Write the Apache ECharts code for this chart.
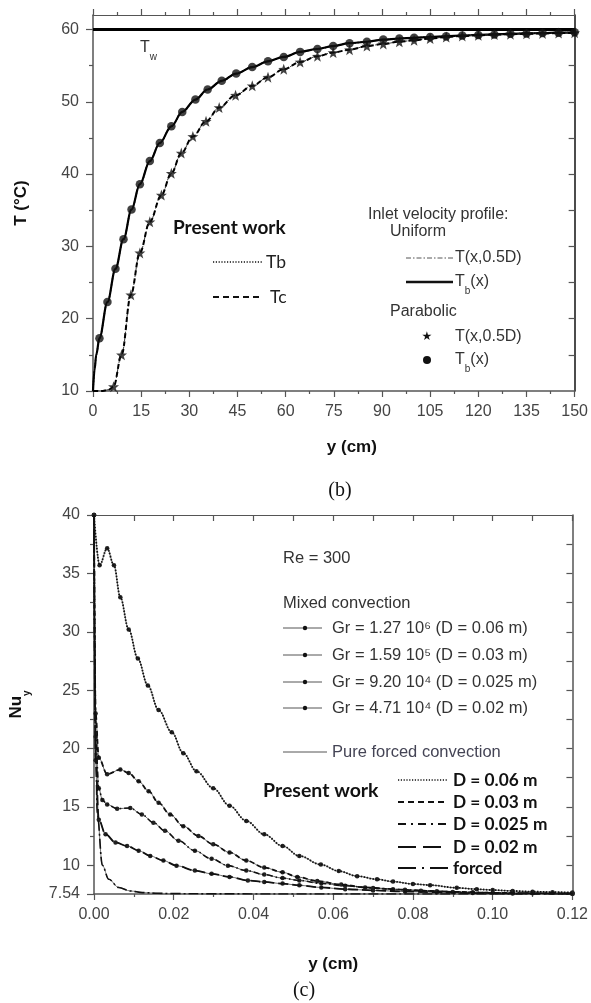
<!DOCTYPE html>
<html>
<head>
<meta charset="utf-8">
<script src="https://cdn.jsdelivr.net/npm/echarts@6/dist/echarts.min.js"></script>
<style>
html,body{margin:0;padding:0;background:#fff;}
#c{width:591px;height:1003px;}
</style>
</head>
<body>
<div id="c"></div>
<script>
// ---------- Chart (b): temperature ----------
var tbX = [0, 0.5, 1, 2, 4.5, 7, 9.5, 12, 14.6, 17.7, 20.8, 24.4, 27.8, 31.9, 35.7, 40.1, 44.6, 49.6, 54.5, 59.4, 64.5, 69.9, 74.8, 79.9, 85.3, 90.4, 95.4, 100, 105, 110, 115, 120, 125, 130, 135, 140, 145, 150];
var tbY = [10, 13, 15, 17.3, 22.3, 26.9, 31.0, 35.1, 38.6, 41.8, 44.3, 46.6, 48.6, 50.3, 51.7, 52.9, 53.9, 54.8, 55.6, 56.2, 56.9, 57.3, 57.7, 58.1, 58.3, 58.6, 58.75, 58.85, 58.96, 59.05, 59.15, 59.25, 59.3, 59.4, 59.45, 59.5, 59.55, 59.6];
var tcX = [0, 3, 5, 6.4, 8.9, 11.8, 14.6, 17.7, 21.3, 24.4, 27.5, 31.1, 35.2, 39.3, 44.4, 49.6, 54.5, 59.4, 64.5, 69.9, 74.8, 79.9, 85.3, 90.4, 95.4, 100, 105, 110, 115, 120, 125, 130, 135, 140, 145, 150];
var tcY = [10, 10, 10.2, 10.6, 15.0, 23.3, 29.1, 33.4, 37.1, 40.1, 42.9, 45.2, 47.3, 49.2, 50.9, 52.2, 53.4, 54.5, 55.5, 56.3, 56.8, 57.2, 57.7, 58.0, 58.3, 58.5, 58.75, 58.95, 59.1, 59.2, 59.3, 59.35, 59.4, 59.45, 59.5, 59.55];
var twValue = 60;
var tXTicks = [0, 150, 15];           // min, max, interval
var tYLabels = [10, 20, 30, 40, 50, 60];
var tYMinor = [15, 25, 35, 45, 55];
var tYRight = [15, 20, 25, 30, 35, 40, 45, 50, 55, 60];
var tYRange = [10, 62];

// ---------- Chart (c): Nusselt number ----------
var d06X = [0, 0.0014, 0.0033, 0.005, 0.0066, 0.0087, 0.011, 0.0135, 0.0162, 0.0195, 0.0224, 0.0257, 0.0299, 0.034, 0.0382, 0.0427, 0.0473, 0.0515, 0.0569, 0.0614, 0.066, 0.071, 0.075, 0.080, 0.0843, 0.091, 0.096, 0.1, 0.105, 0.11, 0.115, 0.12];
var d06Y = [40, 35.7, 37.15, 35.7, 32.96, 30.2, 27.7, 25.4, 23.3, 21.4, 19.6, 18.06, 16.6, 15.1, 13.8, 12.65, 11.65, 10.8, 10.06, 9.5, 9.07, 8.8, 8.6, 8.4, 8.3, 8.07, 7.95, 7.88, 7.8, 7.74, 7.7, 7.66];
var d03X = [0, 0.0004, 0.0012, 0.0033, 0.0066, 0.0087, 0.0112, 0.0137, 0.0162, 0.0191, 0.0224, 0.0262, 0.0299, 0.034, 0.0382, 0.0427, 0.0473, 0.051, 0.056, 0.062, 0.068, 0.075, 0.082, 0.09, 0.1, 0.11, 0.12];
var d03Y = [40, 23, 19.2, 17.8, 18.2, 17.9, 17.2, 16.35, 15.35, 14.35, 13.35, 12.5, 11.8, 11.1, 10.4, 9.8, 9.4, 9.0, 8.65, 8.35, 8.1, 7.95, 7.82, 7.72, 7.64, 7.6, 7.57];
var d025X = [0, 0.0004, 0.0012, 0.0021, 0.0033, 0.0058, 0.0091, 0.012, 0.0149, 0.0178, 0.0212, 0.0253, 0.0295, 0.0336, 0.0382, 0.0427, 0.0473, 0.0515, 0.057, 0.063, 0.07, 0.078, 0.086, 0.095, 0.105, 0.12];
var d025Y = [40, 21, 16.6, 15.6, 15.2, 14.85, 14.9, 14.35, 13.65, 12.95, 12.1, 11.25, 10.55, 9.97, 9.55, 9.2, 8.9, 8.7, 8.45, 8.25, 8.05, 7.9, 7.78, 7.68, 7.62, 7.57];
var d02X = [0, 0.0004, 0.0012, 0.0029, 0.0054, 0.0083, 0.0112, 0.0141, 0.0174, 0.0207, 0.0253, 0.0295, 0.034, 0.0386, 0.0427, 0.0473, 0.0515, 0.057, 0.063, 0.07, 0.078, 0.086, 0.095, 0.105, 0.12];
var d02Y = [40, 19, 13.9, 12.65, 11.95, 11.65, 11.25, 10.8, 10.4, 9.97, 9.55, 9.27, 9.0, 8.7, 8.57, 8.43, 8.28, 8.1, 7.95, 7.85, 7.75, 7.68, 7.62, 7.58, 7.56];
var forcedX = [0, 0.0002, 0.0005, 0.0008, 0.0021, 0.0037, 0.0062, 0.0091, 0.0122, 0.016, 0.02, 0.03, 0.05, 0.08, 0.12];
var forcedY = [40, 28, 19, 14.5, 10, 8.8, 8.1, 7.8, 7.66, 7.6, 7.57, 7.55, 7.54, 7.54, 7.54];
var nXTicks = [0, 0.12, 0.02];
var nXTopTicks = [0, 0.12, 0.01];
var nYLabels = [7.54, 10, 15, 20, 25, 30, 35, 40];
var nYMinor = [12.5, 17.5, 22.5, 27.5, 32.5, 37.5];
var nYRight = [10, 12.5, 15, 17.5, 20, 22.5, 25, 27.5, 30, 32.5, 35, 37.5];
var nYRange = [7.54, 40];

function pairs(xs, ys) { return xs.map(function (x, i) { return [x, ys[i]]; }); }
function from(xs, ys, x0) { return pairs(xs, ys).filter(function (p) { return p[0] >= x0; }); }

var AX = '#555';
var LBL = '#444';
var STAR = 'path://M0,-10L2.35,-3.24L9.51,-3.09L3.8,1.24L5.88,8.09L0,4.2L-5.88,8.09L-3.8,1.24L-9.51,-3.09L-2.35,-3.24Z';
var sans = 'Liberation Sans';
var bold = 'Lato';

var chart = echarts.init(document.getElementById('c'), null, { renderer: 'canvas' });

var grids = [
  { left: 93, top: 15, width: 485, height: 376 },
  { left: 92, top: 515, width: 483, height: 379 }
];

function xMain(grid, r, name, nameGap, pad, fmt) {
  return {
    type: 'value', gridIndex: grid, position: 'bottom', min: r[0], max: r[1], interval: r[2],
    axisLine: { lineStyle: { color: AX, width: 1.5 } },
    axisTick: { length: 6, inside: false, lineStyle: { color: AX, width: 1.2 } },
    minorTick: { show: true, splitNumber: 2, length: 3, lineStyle: { color: AX, width: 1.2 } },
    splitLine: { show: false },
    axisLabel: { color: LBL, fontFamily: sans, fontSize: 16, margin: 13, formatter: fmt },
    name: name, nameLocation: 'middle', nameGap: nameGap,
    nameTextStyle: { color: '#111', fontFamily: sans, fontWeight: 'bold', fontSize: 17, padding: pad }
  };
}
function xTop(grid, r, inside, minor) {
  return {
    type: 'value', gridIndex: grid, position: 'top', min: r[0], max: r[1], interval: r[2],
    axisLine: { show: true, lineStyle: { color: AX, width: 1.2 } },
    axisTick: { length: 6, inside: inside, lineStyle: { color: AX, width: 1.2 } },
    minorTick: { show: minor, splitNumber: 2, length: 3, lineStyle: { color: AX, width: 1.2 } },
    splitLine: { show: false }, axisLabel: { show: false }
  };
}
function yAx(grid, range, pos, labels, ticks, len, inside, showLine, name, nameGap) {
  var o = {
    type: 'value', gridIndex: grid, position: pos, min: range[0], max: range[1],
    axisLine: { show: showLine, onZero: false, lineStyle: { color: pos === 'right' && grid === 0 ? '#111' : AX, width: 1.5 } },
    axisTick: { show: true, length: len, inside: inside, customValues: ticks, lineStyle: { color: AX, width: 1.2 } },
    splitLine: { show: false },
    axisLabel: labels ? { show: true, customValues: labels, color: LBL, fontFamily: sans, fontSize: 16, margin: 14 } : { show: false }
  };
  if (name) {
    o.name = name; o.nameLocation = 'middle'; o.nameGap = nameGap; o.nameRotate = 90;
    o.nameTextStyle = { color: '#111', fontFamily: sans, fontWeight: 'bold', fontSize: 17, rich: {
      m: { fontFamily: sans, fontWeight: 'bold', fontSize: 17, color: '#111', lineHeight: 24, verticalAlign: 'top' },
      s: { fontFamily: sans, fontWeight: 'bold', fontSize: 10, color: '#111', lineHeight: 11, verticalAlign: 'bottom' }
    } };
  }
  return o;
}

var xAxes = [
  xMain(0, tXTicks, 'y (cm)', 48, [0, 0, 0, 36]),
  xTop(0, tXTicks, false, true),
  xMain(1, nXTicks, 'y (cm)', 62, [0, 0, 0, 0], function (v) { return v.toFixed(2); }),
  xTop(1, nXTopTicks, true, false)
];
var yAxes = [
  yAx(0, tYRange, 'left', tYLabels, tYLabels, 7, false, true, 'T (°C)', 63),
  yAx(0, tYRange, 'left', null, tYMinor, 4, false, false),
  yAx(0, tYRange, 'right', null, tYRight, 6, true, true),
  yAx(1, nYRange, 'left', nYLabels, nYLabels, 7, false, true, '{m|Nu}{s|y}', 62),
  yAx(1, nYRange, 'left', null, nYMinor, 4, false, false),
  yAx(1, nYRange, 'right', null, nYRight, 6, true, true)
];

function line(xi, yi, data, color, width, type, smooth, z) {
  return {
    type: 'line', xAxisIndex: xi, yAxisIndex: yi, data: data, showSymbol: false, symbol: 'none',
    smooth: smooth === undefined ? 0.35 : smooth, smoothMonotone: 'x', clip: true, silent: true, z: z || 2,
    lineStyle: { color: color, width: width, type: type }
  };
}
function markedLine(xi, yi, data) {
  return {
    type: 'line', xAxisIndex: xi, yAxisIndex: yi, data: data, symbol: 'circle', symbolSize: 4.5, showSymbol: true,
    smooth: 0.35, smoothMonotone: 'x', clip: true, silent: true, z: 2,
    itemStyle: { color: '#222' }, lineStyle: { color: '#666', width: 1 }
  };
}

var series = [
  // (b)
  line(0, 0, [[tXTicks[0], twValue], [tXTicks[1], twValue]], '#000', 3, 'solid', false, 3),
  line(0, 0, pairs(tbX, tbY), '#000', 2.2, 'solid'),
  line(0, 0, pairs(tbX, tbY), '#000', 1.5, [1.5, 1.5]),
  line(0, 0, pairs(tcX, tcY), '#333', 1, [6, 2, 1.5, 2]),
  line(0, 0, pairs(tcX, tcY), '#000', 2, [5, 3]),
  { type: 'scatter', xAxisIndex: 0, yAxisIndex: 0, data: from(tbX, tbY, 2), symbol: 'circle', symbolSize: 8.5, itemStyle: { color: '#111' }, silent: true, z: 4 },
  { type: 'scatter', xAxisIndex: 0, yAxisIndex: 0, data: from(tcX, tcY, 6), symbol: STAR, symbolSize: 11, itemStyle: { color: '#111' }, silent: true, z: 4 },
  // (c)
  markedLine(2, 3, pairs(d06X, d06Y)),
  markedLine(2, 3, pairs(d03X, d03Y)),
  markedLine(2, 3, pairs(d025X, d025Y)),
  markedLine(2, 3, pairs(d02X, d02Y)),
  line(2, 3, pairs(forcedX, forcedY), '#777', 1, 'solid'),
  line(2, 3, pairs(d06X, d06Y), '#111', 1.8, [1.5, 1.5], 0.35, 3),
  line(2, 3, pairs(d03X, d03Y), '#111', 1.8, [5, 3], 0.35, 3),
  line(2, 3, pairs(d025X, d025Y), '#111', 1.6, [6, 3, 1.5, 3], 0.35, 3),
  line(2, 3, pairs(d02X, d02Y), '#111', 1.8, [10, 4], 0.35, 3),
  line(2, 3, pairs(forcedX, forcedY), '#111', 1.6, [10, 3, 2, 3], 0.35, 3)
];

function txt(x, y, text, opts) {
  opts = opts || {};
  var st = {
    x: x, y: y, text: text, fill: opts.fill || '#333',
    font: opts.font || ('16px "' + sans + '"'),
    textAlign: opts.align || 'left', align: opts.align || 'left',
    textVerticalAlign: 'middle', verticalAlign: 'middle'
  };
  if (opts.rich) st.rich = opts.rich;
  return { type: 'text', z: 100, style: st };
}
function seg(x1, x2, y, dash, w, color) {
  return { type: 'line', z: 100, shape: { x1: x1, y1: y, x2: x2, y2: y },
    style: { stroke: color || '#111', lineWidth: w || 1.5, lineDash: dash || null } };
}
function dot(x, y, r, color) {
  return { type: 'circle', z: 101, shape: { cx: x, cy: y, r: r }, style: { fill: color || '#111' } };
}

var subRich = {
  m: { fontFamily: sans, fontSize: 16, color: '#333', lineHeight: 22, verticalAlign: 'top' },
  s: { fontFamily: sans, fontSize: 10, color: '#333', lineHeight: 11, verticalAlign: 'bottom' }
};
var F16 = '16px "' + sans + '"';
var F165 = '16.5px "' + sans + '"';
var BOLDF = 'bold 19.5px "' + bold + '"';
var BOLDL = 'bold 17.3px "' + bold + '"';

var graphics = [
  // (b) annotations
  txt(140, 51, '{m|T}{s|w}', { rich: subRich }),
  txt(173, 228, 'Present work', { font: 'bold 19px "' + bold + '"', fill: '#111' }),
  seg(213, 262, 262, [1.2, 1.6], 1.4),
  txt(266, 262, 'Tb', { font: '17.5px "' + bold + '"', fill: '#222' }),
  seg(213, 262, 297, [6, 4], 2),
  txt(270, 297, 'Tc', { font: '17.5px "' + bold + '"', fill: '#222' }),
  txt(368, 215, 'Inlet velocity profile:', { font: F16 }),
  txt(390, 232, 'Uniform', { font: F16 }),
  seg(406, 453, 258, [5, 2, 1.5, 2], 1, '#555'),
  txt(455, 258, 'T(x,0.5D)', { font: F16 }),
  seg(406, 453, 282, null, 2.5, '#111'),
  txt(455, 285, '{m|T}{s|b}{m|(x)}', { rich: subRich }),
  txt(390, 312, 'Parabolic', { font: F16 }),
  txt(427, 337, '★', { font: '12px "DejaVu Sans"', fill: '#111', align: 'center' }),
  txt(455, 337, 'T(x,0.5D)', { font: F16 }),
  dot(427, 360, 4),
  txt(455, 363, '{m|T}{s|b}{m|(x)}', { rich: subRich }),
  txt(340, 491, '(b)', { font: '20px "Liberation Serif"', fill: '#111', align: 'center' }),
  // (c) annotations
  txt(283, 558, 'Re = 300', { font: F165 }),
  txt(283, 603, 'Mixed convection', { font: F165 }),
  seg(283, 322, 628, null, 1, '#555'), dot(305, 628, 2.2),
  txt(332, 628, 'Gr = 1.27 10⁶ (D = 0.06 m)', { font: F165 }),
  seg(283, 322, 655, null, 1, '#555'), dot(305, 655, 2.2),
  txt(332, 655, 'Gr = 1.59 10⁵ (D = 0.03 m)', { font: F165 }),
  seg(283, 322, 682, null, 1, '#555'), dot(305, 682, 2.2),
  txt(332, 682, 'Gr = 9.20 10⁴ (D = 0.025 m)', { font: F165 }),
  seg(283, 322, 708, null, 1, '#555'), dot(305, 708, 2.2),
  txt(332, 708, 'Gr = 4.71 10⁴ (D = 0.02 m)', { font: F165 }),
  seg(283, 327, 752, null, 1, '#555'),
  txt(332, 752, 'Pure forced convection', { font: F165, fill: '#445' }),
  txt(263, 791, 'Present work', { font: BOLDF, fill: '#111' }),
  seg(398, 448, 780, [1.2, 1.6], 1.4),
  txt(453, 780, 'D = 0.06 m', { font: BOLDL, fill: '#111' }),
  seg(398, 448, 802, [6, 4], 2),
  txt(453, 802, 'D = 0.03 m', { font: BOLDL, fill: '#111' }),
  seg(398, 448, 824, [8, 5, 2, 5], 2),
  txt(453, 824, 'D = 0.025 m', { font: BOLDL, fill: '#111' }),
  seg(398, 443, 847, [18, 7], 2),
  txt(453, 847, 'D = 0.02 m', { font: BOLDL, fill: '#111' }),
  seg(398, 452, 868, [18, 6, 2, 6], 2),
  txt(453, 868, 'forced', { font: BOLDL, fill: '#111' }),
  txt(304, 991, '(c)', { font: '20px "Liberation Serif"', fill: '#111', align: 'center' })
];

chart.setOption({
  animation: false,
  backgroundColor: '#fff',
  grid: grids,
  xAxis: xAxes,
  yAxis: yAxes,
  series: series,
  graphic: { elements: graphics }
});
</script>
</body>
</html>
